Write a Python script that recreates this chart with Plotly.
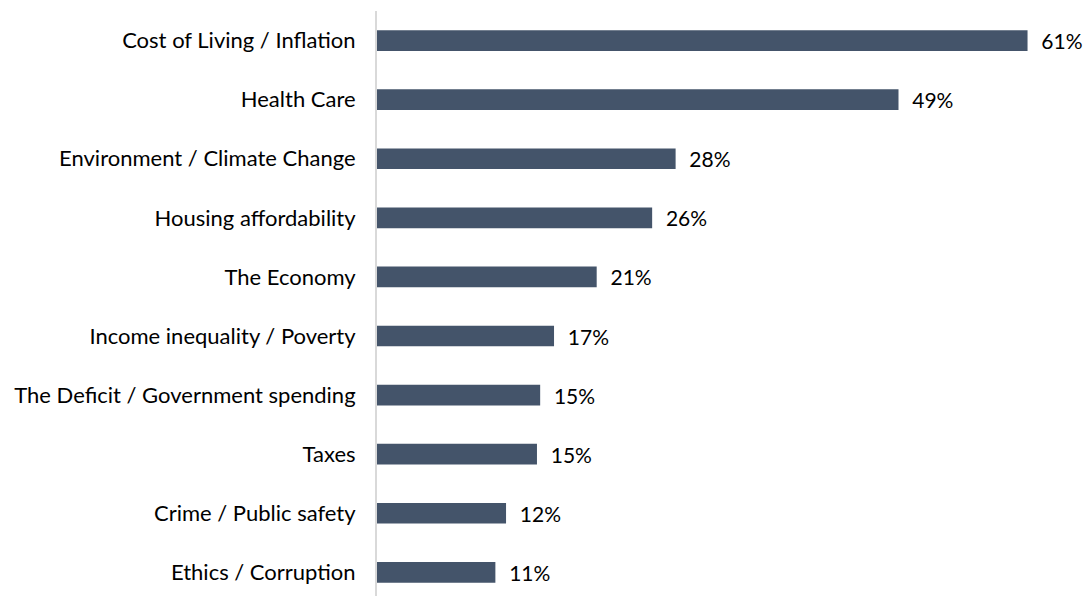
import plotly.graph_objects as go

categories = [
    "Cost of Living / Inflation",
    "Health Care",
    "Environment / Climate Change",
    "Housing affordability",
    "The Economy",
    "Income inequality / Poverty",
    "The Deficit / Government spending",
    "Taxes",
    "Crime / Public safety",
    "Ethics / Corruption",
]
values = [61.0, 48.9, 28.0, 25.8, 20.6, 16.6, 15.3, 15.0, 12.1, 11.1]

FONT = "Lato"
FSIZE = 22
VSIZE = 21

fig = go.Figure(
    go.Bar(
        x=values,
        y=categories,
        orientation="h",
        marker=dict(color="#44546A", line=dict(width=0)),
        texttemplate="\u00a0\u00a0%{x:.0f}%",
        textposition="outside",
        textfont=dict(family=FONT, size=VSIZE, color="#000000"),
        cliponaxis=False,
        hoverinfo="skip",
    )
)

fig.update_layout(
    width=1087,
    height=596,
    margin=dict(l=377, r=20, t=11, b=0, autoexpand=False),
    paper_bgcolor="white",
    plot_bgcolor="white",
    bargap=0.65,
    showlegend=False,
    uniformtext=dict(minsize=VSIZE, mode="show"),
    font=dict(family=FONT, size=FSIZE, color="#000000"),
)
fig.update_xaxes(
    range=[0, 64.7],
    visible=False,
    showgrid=False,
    zeroline=False,
    automargin=False,
)
fig.update_yaxes(
    categoryorder="array",
    categoryarray=categories,
    range=[9.4, -0.5],
    showline=True,
    linecolor="#D9D9D9",
    linewidth=2,
    showgrid=False,
    zeroline=False,
    automargin=False,
    ticks="outside",
    ticklen=15,
    tickcolor="rgba(0,0,0,0)",
    tickfont=dict(family=FONT, size=FSIZE, color="#000000"),
)

fig.write_html(
    "out.html",
    config={"displayModeBar": False},
    post_script="document.body.style.margin='0';document.body.style.overflow='hidden';",
)
